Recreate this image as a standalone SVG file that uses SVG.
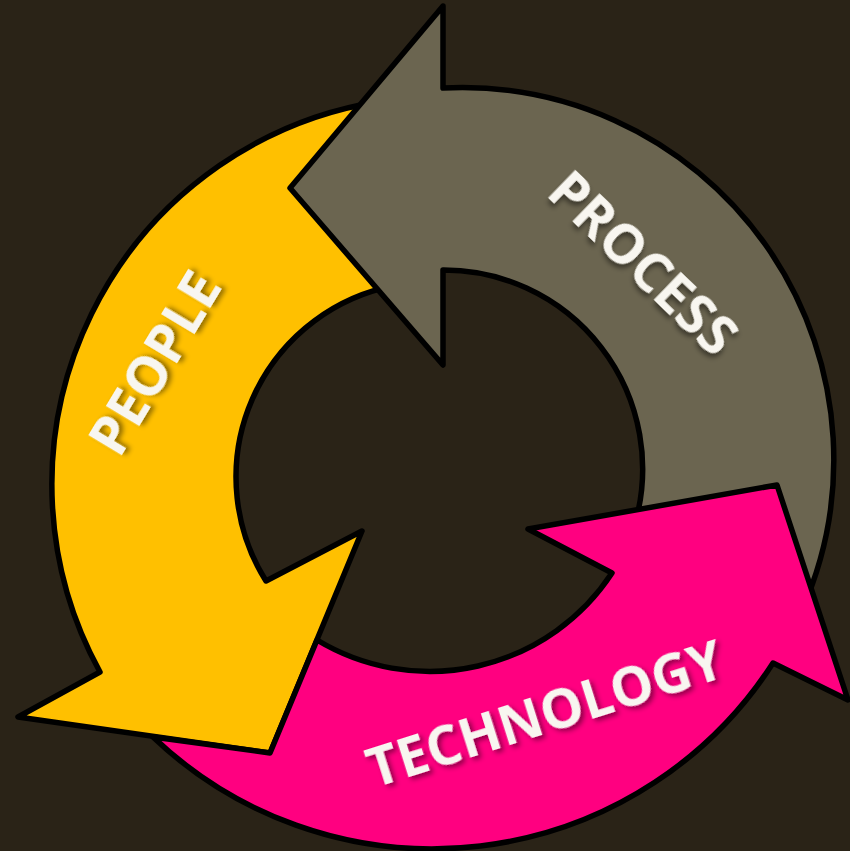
<svg xmlns="http://www.w3.org/2000/svg" width="850" height="851" viewBox="0 0 850 851">
<defs>
<filter id="sh" x="-20%" y="-50%" width="140%" height="200%">
<feDropShadow dx="2.5" dy="3.5" stdDeviation="2.5" flood-color="#000" flood-opacity="0.45"/>
</filter>
<style>
.arrow{stroke:#000;stroke-width:5.5;stroke-linejoin:round}
.lbl{font-family:"Open Sans","Liberation Sans",sans-serif;font-weight:700;font-size:54px;fill:#f8f6f0;text-anchor:middle;filter:url(#sh)}
</style>
</defs>
<rect width="850" height="851" fill="#2a2317"/>
<g id="people">
<path class="arrow" fill="#ffc000" d="M 100 672 L 18 717 L 270 753 L 362 531 L 266 581 A 195 195 0 0 1 395 285.5 L 380 101.5 A 388 388 0 0 0 100 672 Z"/>
<text class="lbl" transform="translate(155,363) rotate(-59)" x="0" y="19">PEOPLE</text>
</g>
<g id="process">
<path class="arrow" fill="#6b6550" d="M 443 88 L 443 6 L 290 188 L 443 365 L 443 270 A 199 199 0 0 1 636 520 L 802 610 A 372 372 0 0 0 443 88 Z"/>
<text class="lbl" transform="translate(643,263) rotate(44)" x="0" y="19">PROCESS</text>
</g>
<g id="technology">
<path class="arrow" fill="#ff0080" d="M 612 573 L 528 529 L 777 485 L 848 700 L 773 663 A 405 405 0 0 1 153 737 L 270 753 L 317 640 A 218 218 0 0 0 612 573 Z"/>
<text class="lbl" transform="translate(545,714) rotate(-17.6)" x="0" y="19">TECHNOLOGY</text>
</g>
<g id="connectors"/>
</svg>
